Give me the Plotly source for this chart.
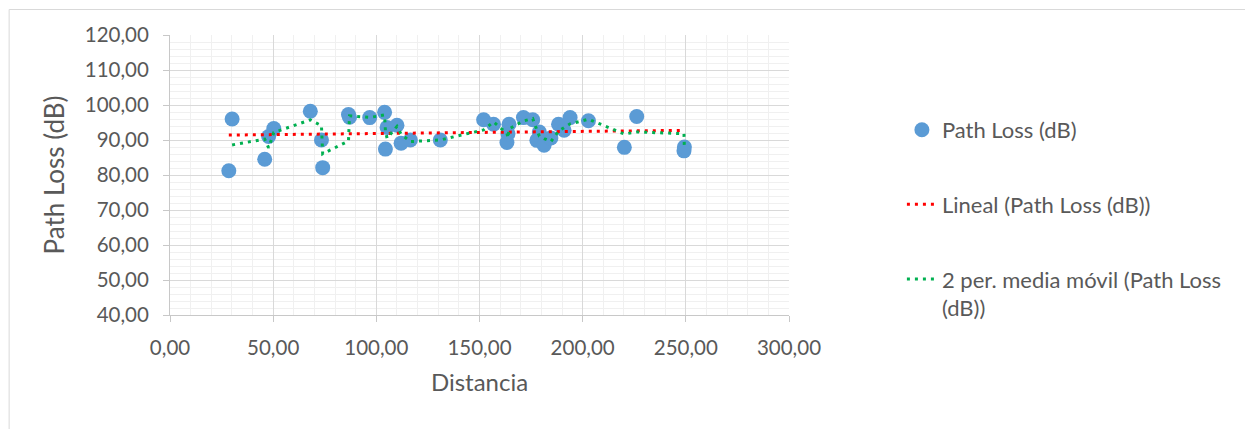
import numpy as np
import plotly.graph_objects as go

# Data
distancia = [28.5, 30.1, 45.9, 47.8, 50.3, 68.0, 73.4, 74.0, 86.5, 87.0,
             96.8, 104.0, 104.4, 105.2, 110.0, 112.0, 116.5, 131.0, 152.0, 156.8,
             163.3, 163.8, 164.3, 171.3, 175.8, 177.8, 179.0, 181.3, 184.6, 188.3,
             191.0, 193.9, 202.8, 220.2, 226.2, 249.1, 249.3]
path_loss = [81.2, 96.0, 84.5, 91.0, 93.3, 98.2, 90.0, 82.1, 97.3, 96.5,
             96.4, 97.9, 87.4, 93.6, 94.2, 89.1, 90.0, 90.0, 95.8, 94.5,
             89.3, 91.8, 94.5, 96.4, 95.8, 89.9, 92.3, 88.5, 90.6, 94.5,
             92.8, 96.4, 95.5, 87.9, 96.7, 86.9, 88.0]

x_ticks = [0, 50, 100, 150, 200, 250, 300]
y_ticks = [40, 50, 60, 70, 80, 90, 100, 110, 120]

name_pts = "Path Loss (dB)"
name_lin = "Lineal (Path Loss (dB))"
name_ma = "2 per. media móvil (Path Loss<br>(dB))"

x = np.array(distancia)
y = np.array(path_loss)
order = np.argsort(x, kind="stable")
xs, ys = x[order], y[order]

# Linear trendline
slope, intercept = np.polyfit(x, y, 1)
lin_x = np.array([x.min(), x.max()])
lin_y = slope * lin_x + intercept

# 2-period moving average
ma_x = xs[1:]
ma_y = (ys[1:] + ys[:-1]) / 2.0

FONT = "Lato, 'Open Sans', sans-serif"
TXT = "#595959"
DOTS = "3px,5px"

fig = go.Figure()
fig.add_trace(go.Scatter(
    x=distancia, y=path_loss, mode="markers", name=name_pts, legendgroup="a",
    marker=dict(size=15, color="#5B9BD5", line=dict(width=0)),
))
fig.add_trace(go.Scatter(
    x=lin_x, y=lin_y, mode="lines", name=name_lin, legendgroup="b",
    line=dict(color="#FF0000", width=3, dash=DOTS),
))
fig.add_trace(go.Scatter(
    x=ma_x, y=ma_y, mode="lines", name=name_ma, legendgroup="c",
    line=dict(color="#00B050", width=3, dash=DOTS),
))

# page body has an 8px margin: work in page pixels, shift by 8
OFF = 8
W, H = 1253 - OFF, 429 - OFF
L = 169.5 - OFF
T = 35 - OFF
R = W - (789 - OFF)
B = H - (315.3 - OFF)
pw, ph = W - L - R, H - T - B

def px_to_paper_x(px):
    return (px - OFF - L) / pw

def px_to_paper_y(py):
    return (H - B - (py - OFF)) / ph

border = dict(color="#D9D9D9", width=1)

fig.update_layout(
    width=W, height=H,
    margin=dict(l=L, r=R, t=T, b=B, pad=0),
    paper_bgcolor="white", plot_bgcolor="white",
    separators=",.",
    font=dict(family=FONT, size=20, color=TXT),
    showlegend=True,
    legend=dict(
        x=px_to_paper_x(902), y=px_to_paper_y(109), xanchor="left", yanchor="top",
        font=dict(family=FONT, size=22, color=TXT),
        tracegroupgap=43, valign="top", bgcolor="rgba(0,0,0,0)",
    ),
    xaxis=dict(
        range=[0, 300], tickvals=x_ticks, tickformat=".2f",
        showgrid=True, gridcolor="#D9D9D9", gridwidth=1,
        minor=dict(dtick=10, tick0=0, showgrid=True, gridcolor="#F0F0F0", gridwidth=1),
        showline=True, linecolor="#C8C8C8", linewidth=1,
        ticks="outside", ticklen=6, tickcolor="#C8C8C8",
        ticklabelstandoff=8,
        zeroline=False,
        title=dict(text="Distancia", font=dict(family=FONT, size=24, color=TXT), standoff=16),
        tickfont=dict(family=FONT, size=20.5, color=TXT),
    ),
    yaxis=dict(
        range=[40, 120], tickvals=y_ticks, tickformat=".2f",
        showgrid=True, gridcolor="#D9D9D9", gridwidth=1,
        minor=dict(dtick=2, tick0=40, showgrid=True, gridcolor="#F0F0F0", gridwidth=1),
        showline=True, linecolor="#C8C8C8", linewidth=1,
        ticks="outside", ticklen=6, tickcolor="#C8C8C8",
        ticklabelstandoff=10,
        zeroline=False,
        title=dict(text="Path Loss (dB)", font=dict(family=FONT, size=26, color=TXT), standoff=12),
        tickfont=dict(family=FONT, size=20.5, color=TXT),
    ),
    shapes=[
        dict(type="line", xref="paper", yref="paper", layer="above",
             x0=px_to_paper_x(8.5), x1=px_to_paper_x(1252),
             y0=px_to_paper_y(9.5), y1=px_to_paper_y(9.5), line=border),
        dict(type="line", xref="paper", yref="paper", layer="above",
             x0=px_to_paper_x(8.5), x1=px_to_paper_x(8.5),
             y0=px_to_paper_y(9.5), y1=px_to_paper_y(440), line=border),
    ],
)

fig.write_html("out.html")
